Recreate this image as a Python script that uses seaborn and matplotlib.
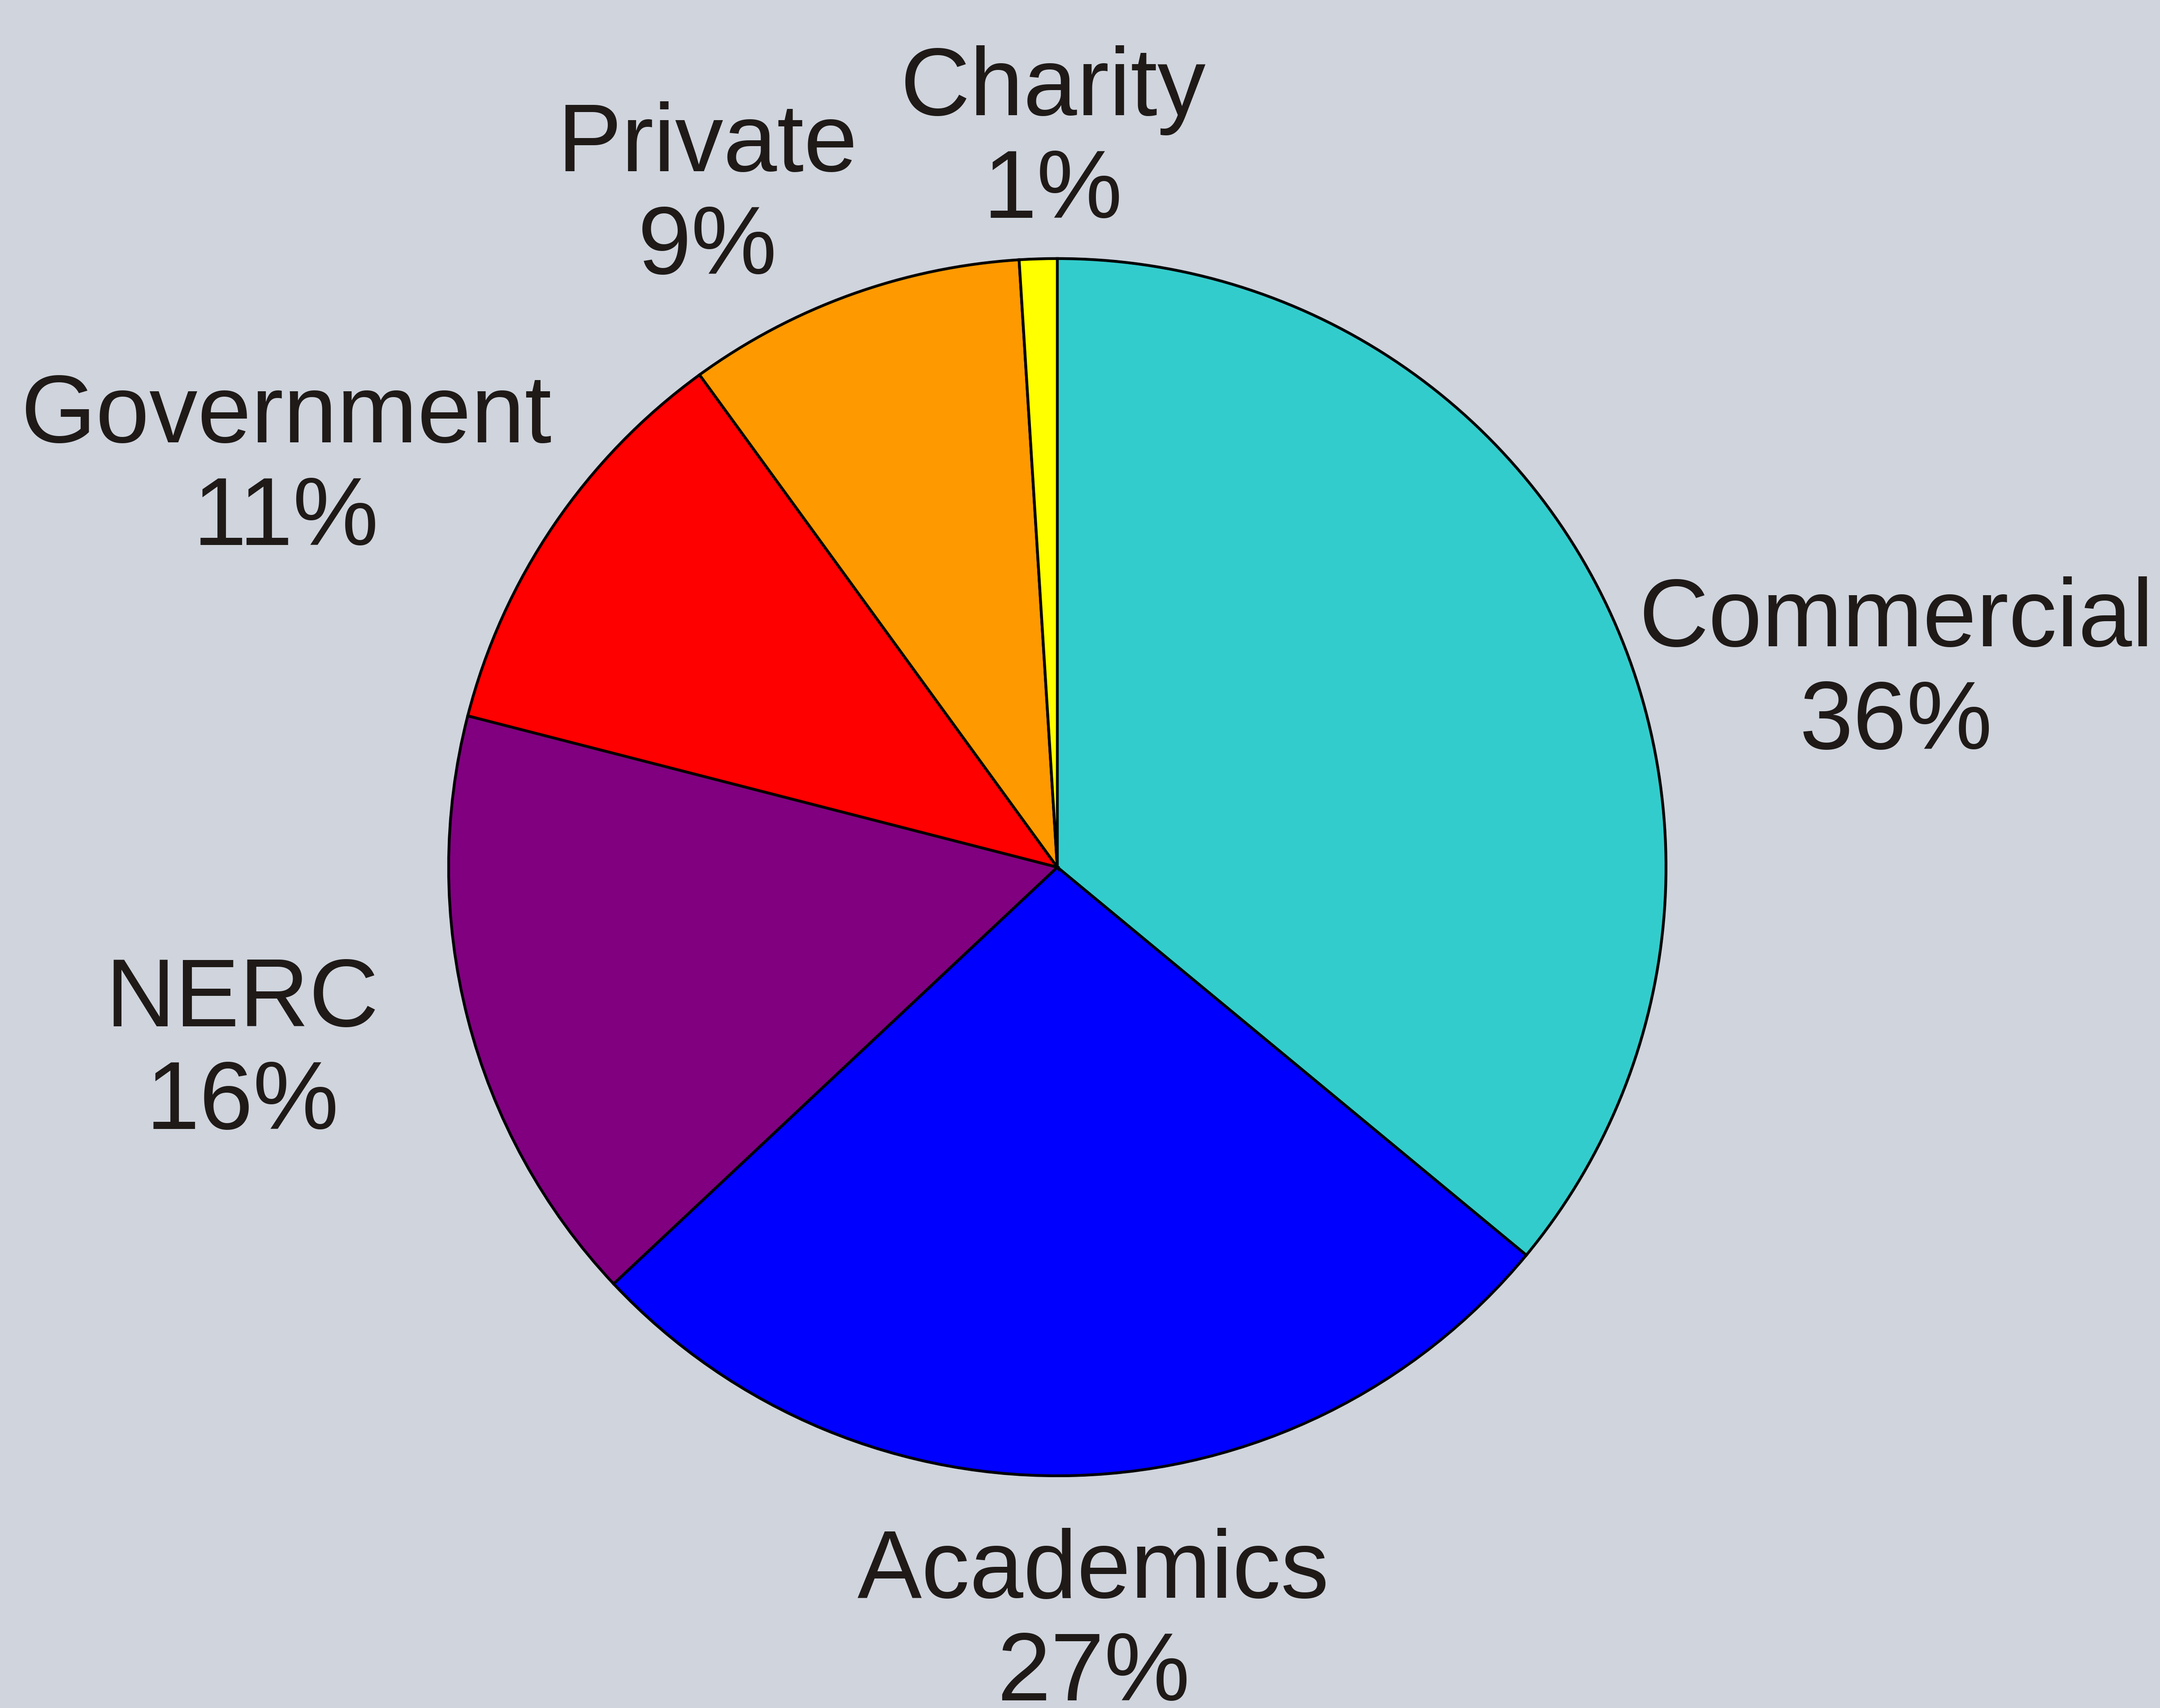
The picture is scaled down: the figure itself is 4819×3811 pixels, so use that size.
import matplotlib.pyplot as plt
import seaborn as sns

# funding sources, share of total (%)
sources = ["Commercial", "Academics", "NERC", "Government", "Private", "Charity"]
shares = [36, 27, 16, 11, 9, 1]
colors = ["#33CCCC", "#0000FF", "#800080", "#FF0000", "#FF9900", "#FFFF00"]

# label block centres, in units of pie radius
label_xy = [(1.378, 0.320), (0.059, -1.243), (-1.339, -0.304),
            (-1.267, 0.655), (-0.575, 1.101), (-0.007, 1.193)]

sns.set_theme(style="white")
plt.rcParams["font.family"] = ["Liberation Sans", "DejaVu Sans"]

bg = "#CFD4DD"
fig = plt.figure(figsize=(48.19, 38.12), dpi=100, facecolor=bg)
ax = fig.add_axes([0.2077, 0.1359, 0.5636, 0.7125])
ax.set_facecolor(bg)

wedges, _ = ax.pie(shares, colors=colors, startangle=90, counterclock=False,
                   wedgeprops=dict(edgecolor="black", linewidth=4.5))
for w in wedges:
    w.set_clip_on(False)

for name, val, (x, y) in zip(sources, shares, label_xy):
    ax.text(x, y, f"{name}\n{val}%", ha="center", va="center",
            multialignment="center", fontsize=155, color="#1F1A17",
            linespacing=1.18)

ax.set_xlim(-1, 1)
ax.set_ylim(-1, 1)
ax.set_aspect("equal")
ax.axis("off")

fig.savefig("out.png", dpi=100, facecolor=bg)
